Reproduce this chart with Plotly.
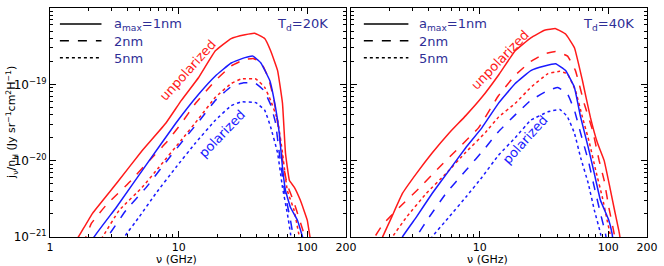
import plotly.graph_objects as go

# ---------------- data (log10 of j_nu/n_H), left panel T_d = 20 K ----------------
nu_L_unpol_1 = [1.5, 1.73, 2.14, 3.28, 5.19, 7.94, 10.5, 14.3, 19.3, 25.6, 32.8, 39, 46.7, 51.9, 58.8, 64.2, 67.7, 72.7, 79.4, 88.4, 100, 105, 115]
lj_L_unpol_1 = [-21.12, -20.95, -20.69, -20.30, -19.87, -19.51, -19.21, -18.91, -18.56, -18.40, -18.35, -18.33, -18.40, -18.56, -18.82, -19.25, -19.90, -20.26, -20.35, -20.52, -20.78, -21.0, -21.3]

nu_L_unpol_2 = [1.8, 2.1, 2.74, 4.27, 5.9, 7.94, 10.5, 13.5, 19.3, 25.6, 32, 38, 44, 50, 55, 60, 65, 70, 75, 80, 90, 96, 105]
lj_L_unpol_2 = [-21.1, -20.82, -20.58, -20.26, -20.0, -19.77, -19.51, -19.25, -18.95, -18.76, -18.68, -18.66, -18.72, -18.92, -19.2, -19.6, -20.05, -20.32, -20.45, -20.58, -20.85, -21.0, -21.3]

nu_L_unpol_5 = [2.2, 2.56, 3.45, 5.2, 7.0, 10.5, 14.3, 19.3, 25.6, 30.5, 39.8, 46.7, 51.9, 58.8, 64.2, 70, 79, 83.9, 88]
lj_L_unpol_5 = [-21.15, -21.0, -20.65, -20.35, -20.09, -19.73, -19.45, -19.17, -18.99, -18.93, -18.93, -19.04, -19.21, -19.47, -19.9, -20.39, -20.65, -20.87, -21.05]

nu_L_pol_1 = [2.0, 2.18, 3.28, 5.9, 9.5, 14.3, 19.3, 25.6, 32.8, 37.8, 43.6, 51.1, 56.6, 60.6, 64.2, 67.7, 74, 83.9, 92, 100]
lj_L_pol_1 = [-21.2, -21.01, -20.61, -20.0, -19.51, -19.13, -18.89, -18.72, -18.65, -18.63, -18.72, -18.95, -19.30, -19.64, -20.09, -20.39, -20.61, -20.78, -21.0, -21.2]

nu_L_pol_2 = [2.5, 2.8, 3.9, 5.6, 7.94, 11.9, 14.3, 19.3, 25.6, 32, 39, 46, 52, 56.6, 60.6, 66.5, 74, 78, 82]
lj_L_pol_2 = [-21.15, -21.0, -20.65, -20.35, -20.02, -19.65, -19.49, -19.21, -19.03, -18.98, -18.98, -19.08, -19.27, -19.5, -19.9, -20.39, -20.78, -21.0, -21.2]

nu_L_pol_5 = [3.5, 3.78, 4.92, 6.64, 9.5, 13.5, 19.3, 25.6, 30.5, 39.8, 46.7, 51.9, 58.8, 64.2, 70, 74, 77]
lj_L_pol_5 = [-21.12, -21.0, -20.74, -20.43, -20.09, -19.77, -19.47, -19.28, -19.23, -19.24, -19.34, -19.56, -19.9, -20.35, -20.69, -20.95, -21.15]

# ---------------- right panel T_d = 40 K ----------------
nu_R_unpol_1 = [1.6, 1.76, 2.07, 2.51, 3.22, 4.27, 5.77, 7.8, 10.4, 14, 18.9, 25, 32, 39, 46.6, 54.6, 63, 72.6, 82.5, 93, 103, 112, 122, 128]
lj_R_unpol_1 = [-21.2, -21.0, -20.74, -20.43, -20.17, -19.90, -19.64, -19.41, -19.17, -18.88, -18.56, -18.39, -18.29, -18.27, -18.34, -18.52, -18.95, -19.43, -19.77, -20.0, -20.35, -20.65, -20.95, -21.2]

nu_R_unpol_2 = [1.4, 1.53, 1.76, 2.38, 3.39, 4.84, 6.9, 9.8, 14, 18.9, 25, 32, 39, 48.3, 55.6, 65, 75.5, 85, 93, 101, 111, 116]
lj_R_unpol_2 = [-21.2, -21.0, -20.84, -20.61, -20.36, -20.09, -19.83, -19.57, -19.15, -18.88, -18.70, -18.6, -18.57, -18.63, -18.82, -19.25, -19.6, -20.0, -20.26, -20.61, -20.95, -21.2]

nu_R_unpol_5 = [1.9, 2.1, 2.7, 3.84, 5.47, 7.8, 11.1, 14, 18.9, 25, 34, 42, 48, 55.6, 63, 71.5, 80, 90, 98, 103, 107]
lj_R_unpol_5 = [-21.2, -21.0, -20.74, -20.43, -20.17, -19.89, -19.63, -19.43, -19.25, -19.04, -18.86, -18.83, -18.86, -19.08, -19.43, -19.77, -20.13, -20.48, -20.78, -20.95, -21.2]

nu_R_pol_1 = [2.3, 2.51, 3.22, 4.27, 5.77, 7.8, 10.4, 14, 18.9, 25, 32, 39, 46.6, 54.6, 61, 70, 78, 87, 101, 107, 112]
lj_R_pol_1 = [-21.2, -21.0, -20.74, -20.43, -20.13, -19.83, -19.57, -19.25, -18.99, -18.82, -18.76, -18.73, -18.82, -19.04, -19.43, -19.83, -20.17, -20.52, -20.78, -20.95, -21.2]

nu_R_pol_2 = [3.0, 3.22, 4.05, 5.47, 7.8, 11.1, 14, 18.9, 25, 34, 40.5, 48, 54.6, 61, 70, 78, 87, 95, 100]
lj_R_pol_2 = [-21.15, -21.0, -20.74, -20.43, -20.13, -19.83, -19.62, -19.4, -19.21, -19.08, -19.04, -19.12, -19.34, -19.64, -20.0, -20.35, -20.69, -20.95, -21.2]

nu_R_pol_5 = [4.0, 4.27, 5.77, 7.8, 10.4, 14, 18.9, 25, 34, 42, 48, 54.6, 61, 70, 78, 87, 92]
lj_R_pol_5 = [-21.1, -21.0, -20.74, -20.48, -20.22, -19.93, -19.7, -19.47, -19.36, -19.33, -19.42, -19.64, -19.96, -20.30, -20.65, -20.95, -21.2]

x_tick_vals_left = [1, 10, 100, 200]
x_tick_text_left = ["1", "10", "100", "200"]
x_tick_vals_right = [10, 100, 200]
x_tick_text_right = ["10", "100", "200"]
y_tick_vals = [1e-21, 1e-20, 1e-19, 1e-18]
y_tick_text = ["10<sup>\u221221</sup>", "10<sup>\u221220</sup>", "10<sup>\u221219</sup>", "10<sup>\u221218</sup>"]

RED = "#ff1a1a"
BLUE = "#1a1aff"
LABEL = "#2e2e96"
FONT = "DejaVu Sans"

fig = go.Figure()

series = [
    ("x", "y", nu_L_unpol_1, lj_L_unpol_1, RED, "solid"),
    ("x", "y", nu_L_unpol_2, lj_L_unpol_2, RED, "dash"),
    ("x", "y", nu_L_unpol_5, lj_L_unpol_5, RED, "dot"),
    ("x", "y", nu_L_pol_1, lj_L_pol_1, BLUE, "solid"),
    ("x", "y", nu_L_pol_2, lj_L_pol_2, BLUE, "dash"),
    ("x", "y", nu_L_pol_5, lj_L_pol_5, BLUE, "dot"),
    ("x2", "y2", nu_R_unpol_1, lj_R_unpol_1, RED, "solid"),
    ("x2", "y2", nu_R_unpol_2, lj_R_unpol_2, RED, "dash"),
    ("x2", "y2", nu_R_unpol_5, lj_R_unpol_5, RED, "dot"),
    ("x2", "y2", nu_R_pol_1, lj_R_pol_1, BLUE, "solid"),
    ("x2", "y2", nu_R_pol_2, lj_R_pol_2, BLUE, "dash"),
    ("x2", "y2", nu_R_pol_5, lj_R_pol_5, BLUE, "dot"),
]
for xa, ya, nu, lj, col, dash in series:
    fig.add_trace(go.Scatter(
        x=nu, y=[10 ** v for v in lj], mode="lines", xaxis=xa, yaxis=ya,
        line=dict(color=col, width=1.5, dash=dash, shape="spline", smoothing=0.3),
        showlegend=False, hoverinfo="skip", cliponaxis=True))

W, H = 664, 266
L_M, R_M, T_M, B_M = 50, 11, 7, 29
pw = W - L_M - R_M
ph = H - T_M - B_M


def px(xp):
    return (xp - L_M) / pw


def py(yp):
    return (H - B_M - yp) / ph


minor_x = [2, 3, 4, 5, 6, 7, 8, 9, 20, 30, 40, 50, 60, 70, 80, 90]
minor_y = [m * 10.0 ** e for e in (-21, -20, -19) for m in range(2, 10)]

ax_common = dict(type="log", showline=True, linecolor="black", linewidth=1, mirror="ticks",
                 ticks="inside", ticklen=6, tickcolor="black", showgrid=False, zeroline=False)
xfont = dict(family=FONT, size=11, color="black")
yfont = dict(family=FONT, size=12, color="black")
fig.update_layout(
    width=W, height=H, margin=dict(l=L_M, r=R_M, t=T_M, b=B_M),
    paper_bgcolor="white", plot_bgcolor="white",
    font=dict(family=FONT, size=12, color="black"),
    xaxis=dict(domain=[0, px(349)], range=[-0.0005, 2.3015], tickmode="array",
               tickvals=x_tick_vals_left, ticktext=x_tick_text_left, ticklabelstandoff=0, tickfont=xfont,
               minor=dict(tickmode="array", tickvals=minor_x, ticks="inside", ticklen=3, tickcolor="black"),
               anchor="y", **ax_common),
    xaxis2=dict(domain=[px(354), 1], range=[-0.0005, 2.3015], tickmode="array",
                tickvals=x_tick_vals_right, ticktext=x_tick_text_right, ticklabelstandoff=0, tickfont=xfont,
                minor=dict(tickmode="array", tickvals=minor_x, ticks="inside", ticklen=3, tickcolor="black"),
                anchor="y2", **ax_common),
    yaxis=dict(range=[-21.0005, -17.9995], tickmode="array", tickvals=y_tick_vals, ticktext=y_tick_text,
               tickfont=yfont,
               minor=dict(tickmode="array", tickvals=minor_y, ticks="inside", ticklen=3, tickcolor="black"),
               anchor="x", **ax_common),
    yaxis2=dict(range=[-21.0005, -17.9995], tickmode="array", tickvals=y_tick_vals, showticklabels=False,
                minor=dict(tickmode="array", tickvals=minor_y, ticks="inside", ticklen=3, tickcolor="black"),
                anchor="x2", **ax_common),
)

ann = []


def note(text, xp, yp, color, size=13, angle=0, xanchor="center"):
    ann.append(dict(text=text, x=px(xp), y=py(yp), xref="paper", yref="paper",
                    xanchor=xanchor, yanchor="middle", textangle=angle, showarrow=False,
                    font=dict(family=FONT, size=size, color=color)))


# axis titles
note("\u03bd (GHz)", 178, 259.5, "black", 11)
note("\u03bd (GHz)", 492, 259.5, "black", 11)
note("j<sub>\u03bd</sub>/n<sub>H</sub> (Jy sr<sup>\u22121</sup>cm<sup>2</sup>H<sup>\u22121</sup>)",
     11, 122, "black", 11, angle=-90)

# panel labels
note("T<sub>d</sub>=20K", 333, 24, LABEL, 13, xanchor="right")
note("T<sub>d</sub>=40K", 642, 24, LABEL, 13, xanchor="right")

# legend (line samples + labels)
shapes = []
for (x0, x1, xt) in [(60, 102, 113), (367, 412, 421)]:
    for (yy, dash, lab) in [(23, "solid", "a<sub>max</sub>=1nm"), (40, "dash", "2nm"), (57, "dot", "5nm")]:
        shapes.append(dict(type="line", xref="paper", yref="paper", x0=px(x0), x1=px(x1),
                           y0=py(yy), y1=py(yy), line=dict(color="black", width=1.5, dash=dash)))
        note(lab, xt, yy + 1, LABEL, 13, xanchor="left")

# curve labels
note("unpolarized", 189, 70, RED, 13, angle=-48)
note("polarized", 224, 133, BLUE, 13, angle=-46)
note("unpolarized", 505, 59, RED, 13, angle=-46)
note("polarized", 530, 139, BLUE, 13, angle=-48)

fig.update_layout(annotations=ann, shapes=shapes)
fig.write_html("out.html", config={"displayModeBar": False},
               post_script="document.body.style.margin='0';document.body.style.padding='0';")
